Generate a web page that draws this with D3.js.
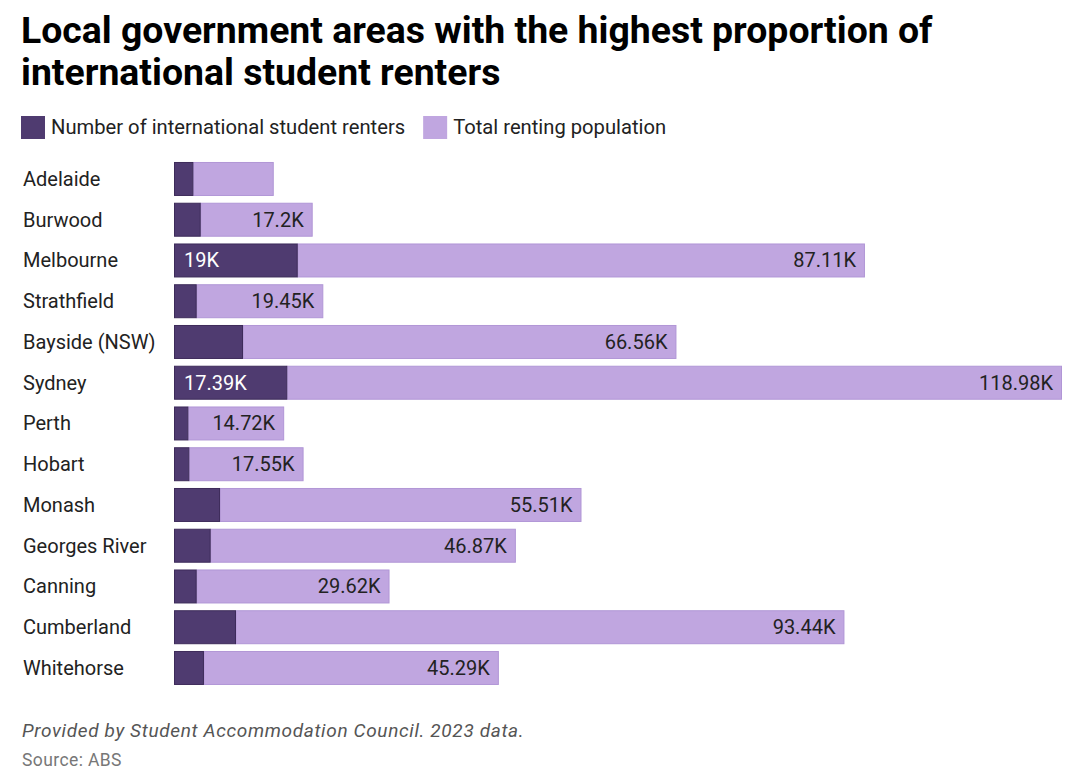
<!DOCTYPE html>
<html><head><meta charset="utf-8">
<script src="https://cdn.jsdelivr.net/npm/d3@7"></script>
<style>
html,body{margin:0;padding:0;background:#fff;}
svg{display:block;font-family:Roboto,"Noto Sans",sans-serif;}
</style></head>
<body><svg id="chart" width="1080" height="774"></svg>
<script>
const categories = ["Adelaide","Burwood","Melbourne","Strathfield","Bayside (NSW)","Sydney","Perth","Hobart","Monash","Georges River","Canning","Cumberland","Whitehorse"];
const studentRenters = [2.97,4.1,19,3.48,10.6,17.39,2.2,2.35,7.07,5.63,3.48,9.52,4.6];
const totalRenting = [12.35,17.2,87.11,19.45,66.56,118.98,14.72,17.55,55.51,46.87,29.62,93.44,45.29];
const seriesNames = ["Number of international student renters","Total renting population"];

const svg = d3.select("#chart");
const dark = "#4f3b70", darkStroke = "#3d2b5a";
const light = "#c0a6e0", lightStroke = "#b196d6";

// Title
const title = svg.append("text").attr("font-weight",700).attr("font-size",37.4).attr("fill","#000");
title.append("tspan").attr("x",21).attr("y",43).text("Local government areas with the highest proportion of");
title.append("tspan").attr("x",21).attr("y",85).text("international student renters");

// Legend
const leg = svg.append("g");
let lx = 21;
seriesNames.forEach((n,i)=>{
  leg.append("rect").attr("x",lx).attr("y",116).attr("width",24).attr("height",23)
    .attr("fill", i===0?dark:light);
  const t = leg.append("text").attr("x",lx+30).attr("y",133.5).attr("font-size",20.2).attr("fill","#222").text(n);
  lx += 30 + t.node().getComputedTextLength() + 18;
});

const data = categories.map((c,i)=>({cat:c, s:studentRenters[i], t:totalRenting[i]}));
const x = d3.scaleLinear().domain([0, d3.max(data,d=>d.s+d.t)]).range([174,1062]);
const y = d3.scaleBand().domain(categories).range([158.6, 158.6+13*40.75]).paddingInner(0.166).paddingOuter(0.083);

const fmt = v => (Math.round(v*100)/100) + "K";
const fs = 20;

const rows = svg.append("g").selectAll("g").data(data).join("g");
rows.append("text").attr("x",23).attr("y",d=>y(d.cat)+y.bandwidth()/2+7)
  .attr("font-size",fs).attr("fill","#222").text(d=>d.cat);
rows.append("rect").attr("x",d=>x(d.s)).attr("y",d=>y(d.cat)+0.5)
  .attr("width",d=>x(d.s+d.t)-x(d.s)-0.5).attr("height",y.bandwidth()-1)
  .attr("fill",light).attr("stroke",lightStroke).attr("stroke-width",1);
rows.append("rect").attr("x",d=>x(0)+0.5).attr("y",d=>y(d.cat)+0.5)
  .attr("width",d=>x(d.s)-x(0)-1).attr("height",y.bandwidth()-1)
  .attr("fill",dark).attr("stroke",darkStroke).attr("stroke-width",1);
rows.filter(d=>x(d.s)-x(0)>100).append("text")
  .attr("x",x(0)+10).attr("y",d=>y(d.cat)+y.bandwidth()/2+7)
  .attr("font-size",fs).attr("fill","#fff").text(d=>fmt(d.s));
rows.filter(d=>x(d.s+d.t)-x(d.s)>90).append("text")
  .attr("x",d=>x(d.s+d.t)-9).attr("y",d=>y(d.cat)+y.bandwidth()/2+7)
  .attr("text-anchor","end").attr("font-size",fs).attr("fill","#222").text(d=>fmt(d.t));

// Footer
svg.append("text").attr("x",22).attr("y",737).attr("font-size",19).attr("letter-spacing",0.65).attr("font-style","italic")
  .attr("fill","#555").text("Provided by Student Accommodation Council. 2023 data.");
svg.append("text").attr("x",22).attr("y",766).attr("font-size",17.5).attr("letter-spacing",0.4)
  .attr("fill","#777").text("Source: ABS");
</script></body></html>
